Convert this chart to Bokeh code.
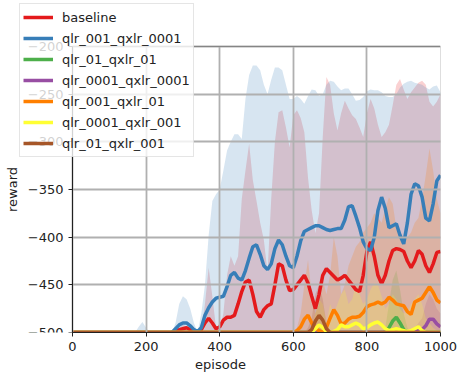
from bokeh.plotting import figure
from bokeh.models import Range1d, Legend, LegendItem, FixedTicker, BoxAnnotation, Grid
from bokeh.embed import file_html
from bokeh.resources import INLINE

# episodes sampled every 10 steps
episodes = list(range(0, 1001, 10))

# smoothed mean reward per run
baseline_mean = [-500] * 29 + [
    -497, -496, -495, -497, -500, -500, -497, -490, -485, -490,
    -496, -494, -487, -484, -484, -482, -470, -457, -447, -445,
    -460, -478, -484, -476, -472, -470, -450, -428, -430, -445,
    -456, -455, -450, -445, -440, -448, -462, -475, -460, -440,
    -433, -437, -441, -445, -443, -440, -445, -450, -455, -457,
    -440, -415, -405, -420, -440, -449, -440, -425, -414, -412,
    -413, -415, -425, -432, -425, -414, -418, -430, -437, -428,
    -416, -415]
qlr_001_qxlr_0001_mean = [-500] * 28 + [
    -496, -492, -490, -490, -493, -497, -499, -495, -482, -474,
    -468, -464, -463, -462, -452, -440, -437, -443, -445, -435,
    -422, -410, -408, -418, -430, -434, -428, -412, -403, -408,
    -420, -430, -432, -420, -404, -394, -392, -390, -388, -388,
    -390, -392, -393, -392, -391, -391, -382, -368, -367, -378,
    -390, -405, -412, -414, -400, -372, -358, -370, -390, -388,
    -386, -398, -407, -385, -355, -344, -346, -358, -380, -383,
    -365, -341, -335]
qlr_01_qxlr_01_mean = [-500] * 86 + [-495, -488, -484, -490, -497] + [-500] * 10
qlr_0001_qxlr_0001_mean = [-500] * 93 + [-498, -496, -497, -493, -486, -486, -491, -494]
qlr_001_qxlr_01_mean = [-500] * 61 + [
    -498, -494, -486, -482, -490, -496, -498, -500, -495, -485,
    -476, -482, -491, -490, -486, -484, -484, -483, -479, -473,
    -471, -470, -468, -470, -468, -463, -466, -470, -471, -472,
    -478, -481, -468, -466, -464, -458, -452, -458, -466, -469]
qlr_0001_qxlr_001_mean = [-500] * 66 + [
    -496, -492, -495, -499, -500, -499, -497, -492, -494, -494,
    -492, -490, -492, -496, -495, -492, -490, -489, -492, -496,
    -498, -497, -496, -497, -498, -499, -498, -496, -494, -498] + [-500] * 5
qlr_01_qxlr_001_mean = [-500] * 65 + [-497, -488, -482, -487, -496] + [-500] * 31

# upper edge of the spread band per run (bands start at the reward floor)
reward_floor = -500
baseline_upper = [-500] * 29 + [
    -495, -492, -494, -498, -500, -500, -500, -470, -432, -462,
    -495, -498, -480, -440, -420, -430, -420, -360, -330, -302,
    -340, -362, -385, -403, -437, -360, -300, -269, -267, -285,
    -306, -272, -267, -275, -290, -338, -372, -396, -375, -295,
    -232, -240, -270, -288, -270, -257, -265, -272, -276, -285,
    -295, -270, -255, -265, -282, -295, -290, -282, -262, -240,
    -234, -245, -255, -248, -243, -238, -236, -240, -258, -263,
    -258, -250]
qlr_001_qxlr_0001_upper = [-500] * 18 + [-494, -489, -495] + [-500] * 7 + [
    -490, -470, -462, -465, -475, -490, -500, -480, -450, -398,
    -362, -355, -350, -330, -309, -300, -292, -292, -297, -255,
    -230, -220, -220, -225, -240, -250, -235, -222, -222, -225,
    -240, -255, -255, -252, -255, -260, -252, -245, -246, -252,
    -250, -240, -236, -237, -242, -246, -244, -244, -250, -257,
    -256, -253, -247, -245, -246, -246, -248, -252, -253, -253,
    -250, -243, -239, -237, -236, -238, -239, -240, -243, -245,
    -242, -241, -248]
qlr_01_qxlr_01_upper = [-500] * 85 + [-495, -470, -445, -435, -455, -480, -495] + [-500] * 9
qlr_0001_qxlr_0001_upper = [-500] * 92 + [-498, -495, -490, -485, -470, -460, -465, -475, -480]
qlr_001_qxlr_01_upper = [-500] * 61 + [
    -495, -480, -450, -424, -460, -480, -470, -445, -460, -440,
    -400, -420, -460, -450, -430, -420, -410, -405, -395, -390,
    -385, -375, -380, -385, -370, -358, -365, -390, -395, -400,
    -400, -395, -385, -380, -360, -335, -307, -330, -360, -375]
qlr_0001_qxlr_001_upper = [-500] * 65 + [
    -495, -480, -465, -470, -490, -470, -480, -470, -460, -455,
    -470, -465, -450, -460, -470, -465, -455, -448, -450, -462,
    -475, -470, -460, -465, -475, -480, -478, -470, -465, -460,
    -470] + [-485, -490, -495, -498, -500]
qlr_01_qxlr_001_upper = [-500] * 64 + [-495, -485, -460, -450, -465, -490] + [-500] * 31

run_names = ["baseline", "qlr_001_qxlr_0001", "qlr_01_qxlr_01", "qlr_0001_qxlr_0001",
             "qlr_001_qxlr_01", "qlr_0001_qxlr_001", "qlr_01_qxlr_001"]
run_colors = ["#e41a1c", "#377eb8", "#4daf4a", "#984ea3", "#ff7f00", "#ffff33", "#a65628"]
run_means = [baseline_mean, qlr_001_qxlr_0001_mean, qlr_01_qxlr_01_mean, qlr_0001_qxlr_0001_mean,
             qlr_001_qxlr_01_mean, qlr_0001_qxlr_001_mean, qlr_01_qxlr_001_mean]
run_uppers = [baseline_upper, qlr_001_qxlr_0001_upper, qlr_01_qxlr_01_upper, qlr_0001_qxlr_0001_upper,
              qlr_001_qxlr_01_upper, qlr_0001_qxlr_001_upper, qlr_01_qxlr_001_upper]

x_ticks = [0, 200, 400, 600, 800, 1000]
y_ticks = [-500, -450, -400, -350, -300, -250, -200]
x_lo, x_hi = 0, 1000
y_lo, y_hi = -500, -200

FONT = "DejaVu Sans"
W, H = 458, 376
# pixel box of the axes; the drawing frame is widened to the canvas's top-left
# so the legend can overhang the y axis like a floating box
AX_LEFT, AX_RIGHT, AX_TOP, AX_BOTTOM = 72, 440, 46, 332
x_scale = (AX_RIGHT - AX_LEFT) / (x_hi - x_lo)
y_scale = (AX_BOTTOM - AX_TOP) / (y_hi - y_lo)

p = figure(width=W, height=H, output_backend="svg", toolbar_location=None,
           x_range=Range1d(x_lo - AX_LEFT / x_scale, x_hi),
           y_range=Range1d(y_lo, y_hi + AX_TOP / y_scale),
           min_border_left=0, min_border_right=W - AX_RIGHT,
           min_border_top=0, min_border_bottom=H - AX_BOTTOM)
p.background_fill_color = "white"
p.border_fill_color = "white"
p.outline_line_color = None

# spread bands underneath everything else
for color, upper in zip(run_colors, run_uppers):
    band = p.varea(x=episodes, y1=reward_floor, y2=upper, fill_color=color, fill_alpha=0.2)
    band.level = "underlay"

# grid limited to the axes box, above the bands but below the mean curves
has_cross = "cross_bounds" in Grid.properties()
for g, ticks, bnd, cross in ((p.xgrid[0], x_ticks, (x_lo, x_hi), (y_lo, y_hi)),
                             (p.ygrid[0], y_ticks, (y_lo, y_hi), (x_lo, x_hi))):
    g.ticker = FixedTicker(ticks=ticks)
    g.bounds = bnd
    g.grid_line_color = "#b0b0b0"
    g.grid_line_width = 1.8
    g.level = "glyph"
    if has_cross:
        g.cross_bounds = cross
    else:
        g.visible = False
if not has_cross:
    p.segment(x0=x_ticks, x1=x_ticks, y0=y_lo, y1=y_hi, line_color="#b0b0b0", line_width=1.8)
    p.segment(x0=x_lo, x1=x_hi, y0=y_ticks, y1=y_ticks, line_color="#b0b0b0", line_width=1.8)

items = []
for name, color, mean in zip(run_names, run_colors, run_means):
    r = p.line(episodes, mean, line_color=color, line_width=3.5)
    items.append(LegendItem(label=name, renderers=[r]))

for ax in (p.xaxis[0], p.yaxis[0]):
    ax.axis_line_color = "#222222"
    ax.major_tick_line_color = "#222222"
    ax.major_tick_out = 4
    ax.major_tick_in = 0
    ax.minor_tick_line_color = None
    ax.major_label_text_font = FONT
    ax.major_label_text_font_size = "13px"
    ax.major_label_text_color = "#222222"
    ax.axis_label_text_font = FONT
    ax.axis_label_text_font_size = "13px"
    ax.axis_label_text_font_style = "normal"
    ax.axis_label_text_color = "#222222"

p.xaxis[0].ticker = FixedTicker(ticks=x_ticks)
p.xaxis[0].bounds = (x_lo, x_hi)
p.yaxis[0].ticker = FixedTicker(ticks=y_ticks)
p.yaxis[0].bounds = (y_lo, y_hi)
p.yaxis[0].fixed_location = x_lo
p.yaxis[0].major_label_overrides = {t: "\u2212" + str(abs(t)) for t in y_ticks}
p.xaxis[0].axis_label = "episode"
p.yaxis[0].axis_label = "reward"
p.xaxis[0].axis_label_standoff = 3
p.yaxis[0].axis_label_standoff = 5

# box spines around the data area
p.add_layout(BoxAnnotation(left=x_lo, right=x_hi, bottom=y_lo, top=y_hi,
                           fill_alpha=0, line_color="#222222", line_width=1))

legend = Legend(items=items, location=(19, AX_BOTTOM - 6 - 151))
legend.label_text_font = FONT
legend.label_text_font_size = "13px"
legend.label_text_color = "#222222"
legend.glyph_width = 30
legend.glyph_height = 20
legend.label_height = 20
legend.label_standoff = 9
legend.spacing = 1
legend.padding = 3
legend.margin = 0
legend.border_line_color = "#cccccc"
legend.background_fill_color = "white"
legend.background_fill_alpha = 0.8
p.add_layout(legend, "center")

open("out.html", "w").write(file_html(p, INLINE))
